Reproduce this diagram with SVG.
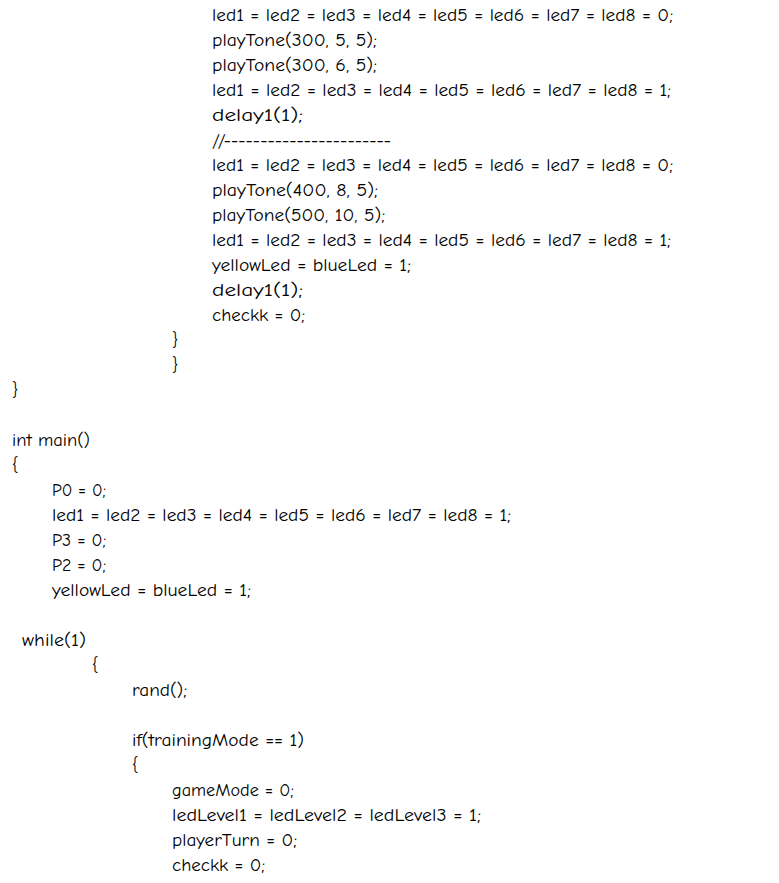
<svg xmlns="http://www.w3.org/2000/svg" width="779" height="883" viewBox="0 0 779 883">
<style>text{font-family:"Comic Neue","Liberation Sans",sans-serif;font-size:17px;fill:#000}</style>
<rect width="779" height="883" fill="#fff"/>
<text x="212" y="21" textLength="461" lengthAdjust="spacingAndGlyphs">led1 = led2 = led3 = led4 = led5 = led6 = led7 = led8 = 0;</text>
<text x="212" y="46" textLength="165" lengthAdjust="spacingAndGlyphs">playTone(300, 5, 5);</text>
<text x="212" y="71" textLength="165" lengthAdjust="spacingAndGlyphs">playTone(300, 6, 5);</text>
<text x="212" y="96" textLength="459" lengthAdjust="spacingAndGlyphs">led1 = led2 = led3 = led4 = led5 = led6 = led7 = led8 = 1;</text>
<text x="212" y="121" textLength="91" lengthAdjust="spacingAndGlyphs">delay1(1);</text>
<text x="212" y="146" textLength="179" lengthAdjust="spacingAndGlyphs">//-----------------------</text>
<text x="212" y="171" textLength="461" lengthAdjust="spacingAndGlyphs">led1 = led2 = led3 = led4 = led5 = led6 = led7 = led8 = 0;</text>
<text x="212" y="196" textLength="166" lengthAdjust="spacingAndGlyphs">playTone(400, 8, 5);</text>
<text x="212" y="221" textLength="173" lengthAdjust="spacingAndGlyphs">playTone(500, 10, 5);</text>
<text x="212" y="246" textLength="459" lengthAdjust="spacingAndGlyphs">led1 = led2 = led3 = led4 = led5 = led6 = led7 = led8 = 1;</text>
<text x="212" y="271" textLength="199" lengthAdjust="spacingAndGlyphs">yellowLed = blueLed = 1;</text>
<text x="212" y="296" textLength="91" lengthAdjust="spacingAndGlyphs">delay1(1);</text>
<text x="212" y="321" textLength="93" lengthAdjust="spacingAndGlyphs">checkk = 0;</text>
<text x="172" y="346">}</text>
<text x="172" y="371">}</text>
<text x="12" y="396">}</text>
<text x="12" y="446" textLength="78" lengthAdjust="spacingAndGlyphs">int main()</text>
<text x="12" y="471">{</text>
<text x="52" y="496" textLength="54" lengthAdjust="spacingAndGlyphs">P0 = 0;</text>
<text x="52" y="521" textLength="459" lengthAdjust="spacingAndGlyphs">led1 = led2 = led3 = led4 = led5 = led6 = led7 = led8 = 1;</text>
<text x="52" y="546" textLength="54" lengthAdjust="spacingAndGlyphs">P3 = 0;</text>
<text x="52" y="571" textLength="54" lengthAdjust="spacingAndGlyphs">P2 = 0;</text>
<text x="52" y="596" textLength="199" lengthAdjust="spacingAndGlyphs">yellowLed = blueLed = 1;</text>
<text x="22" y="646" textLength="64" lengthAdjust="spacingAndGlyphs">while(1)</text>
<text x="92" y="671">{</text>
<text x="132" y="696" textLength="55" lengthAdjust="spacingAndGlyphs">rand();</text>
<text x="132" y="746" textLength="172" lengthAdjust="spacingAndGlyphs">if(trainingMode == 1)</text>
<text x="132" y="771">{</text>
<text x="172" y="796" textLength="122" lengthAdjust="spacingAndGlyphs">gameMode = 0;</text>
<text x="172" y="821" textLength="309" lengthAdjust="spacingAndGlyphs">ledLevel1 = ledLevel2 = ledLevel3 = 1;</text>
<text x="172" y="846" textLength="125" lengthAdjust="spacingAndGlyphs">playerTurn = 0;</text>
<text x="172" y="871" textLength="93" lengthAdjust="spacingAndGlyphs">checkk = 0;</text>
</svg>
